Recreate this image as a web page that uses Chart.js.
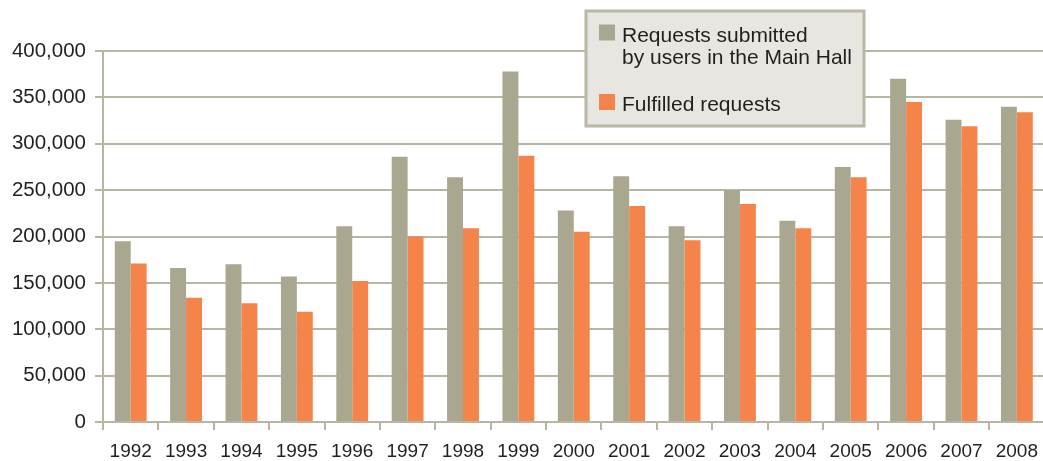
<!DOCTYPE html>
<html>
<head>
<meta charset="utf-8">
<script src="https://cdn.jsdelivr.net/npm/chart.js@4.4.1/dist/chart.umd.min.js"></script>
<style>
  body { margin: 0; background: #fff; overflow: hidden; }
  #wrap { width: 1048px; height: 461px; }
</style>
</head>
<body>
<div id="wrap"><canvas id="chart" width="1048" height="461"></canvas></div>
<script>
var years = ["1992", "1993", "1994", "1995", "1996", "1997", "1998", "1999", "2000",
  "2001", "2002", "2003", "2004", "2005", "2006", "2007", "2008"];
var submitted = [195000, 166000, 170000, 157000, 211000, 286000, 264000, 378000, 228000,
  265000, 211000, 250000, 217000, 275000, 370000, 326000, 340000];
var fulfilled = [171000, 134000, 128000, 119000, 152000, 200000, 209000, 287000, 205000,
  233000, 196000, 235000, 209000, 264000, 345000, 319000, 334000];
var legendLines = [["Requests submitted", "by users in the Main Hall"], ["Fulfilled requests"]];

var GREY = "#a9a78f";
var ORANGE = "#f48449";
var GRID = "#b8b6a3";

// legend box drawn by hand, the built-in one can't wrap text like this
var boxLegend = {
  id: "boxLegend",
  afterDraw: function (chart) {
    var ctx = chart.ctx;
    ctx.save();
    ctx.fillStyle = "#e7e6e0";
    ctx.fillRect(586, 11, 278, 115);
    ctx.strokeStyle = "#bab8a5";
    ctx.lineWidth = 3;
    ctx.strokeRect(586, 11, 278, 115);

    ctx.font = "21px 'Liberation Sans', Arial, sans-serif";
    ctx.textBaseline = "alphabetic";
    var ys = [41.5, 111];
    chart.data.datasets.forEach(function (ds, i) {
      ctx.fillStyle = ds.backgroundColor;
      ctx.fillRect(599, ys[i] - 17, 16, 16);
      ctx.fillStyle = "#231f20";
      legendLines[i].forEach(function (t, j) {
        ctx.fillText(t, 622, ys[i] + j * 22.7);
      });
    });
    ctx.restore();
  }
};

var ctx = document.getElementById("chart").getContext("2d");
var myChart = new Chart(ctx, {
  type: "bar",
  data: {
    labels: years,
    datasets: [
      { label: "Requests submitted by users in the Main Hall", data: submitted, backgroundColor: GREY },
      { label: "Fulfilled requests", data: fulfilled, backgroundColor: ORANGE },
    ],
  },
  options: {
    responsive: false,
    animation: false,
    layout: { padding: { top: 51, right: 0, left: 0, bottom: 0 } },
    categoryPercentage: 0.575,
    barPercentage: 1,
    plugins: {
      legend: { display: false },
      tooltip: { enabled: false },
    },
    scales: {
      x: {
        afterFit: function (s) { s.height = 39; },
        grid: { drawOnChartArea: false, offset: true, color: GRID, lineWidth: 2, tickLength: 8 },
        border: { color: GRID, width: 2 },
        ticks: {
          color: "#231f20",
          padding: 10,
          maxRotation: 0,
          font: { family: "'Liberation Sans', Arial, sans-serif", size: 19 },
        },
      },
      y: {
        min: 0,
        max: 400000,
        afterFit: function (s) { s.width = 103; },
        grid: { color: GRID, lineWidth: 2, tickLength: 8 },
        border: { color: GRID, width: 2 },
        ticks: {
          stepSize: 50000,
          color: "#231f20",
          padding: 9,
          font: { family: "'Liberation Sans', Arial, sans-serif", size: 20.5 },
          callback: function (v) { return v.toLocaleString("en-US"); },
        },
      },
    },
  },
  plugins: [boxLegend],
});
</script>
</body>
</html>
